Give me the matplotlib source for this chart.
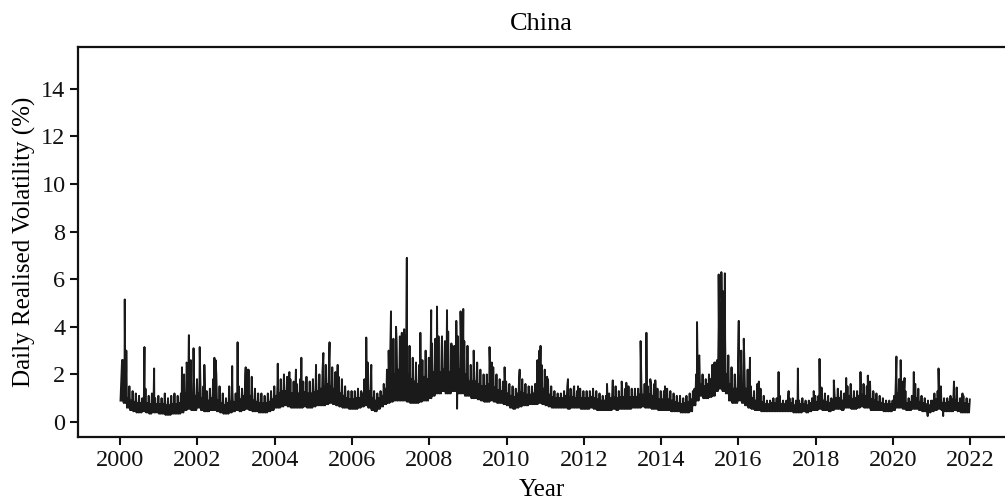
import matplotlib
matplotlib.use("Agg")
import matplotlib.pyplot as plt
import numpy as np

# monthly trough of daily realised volatility (%), Jan 2000 .. Dec 2021
lows = [
    0.9, 0.8, 0.6, 0.5, 0.45, 0.4, 0.4, 0.45, 0.4, 0.35, 0.4, 0.4,      # 2000
    0.35, 0.35, 0.3, 0.3, 0.35, 0.35, 0.35, 0.4, 0.5, 0.55, 0.5, 0.5,   # 2001
    0.6, 0.5, 0.45, 0.45, 0.5, 0.5, 0.45, 0.4, 0.35, 0.35, 0.4, 0.45,   # 2002
    0.5, 0.45, 0.5, 0.55, 0.5, 0.45, 0.45, 0.4, 0.4, 0.4, 0.45, 0.5,    # 2003
    0.6, 0.6, 0.65, 0.7, 0.65, 0.6, 0.6, 0.6, 0.6, 0.65, 0.6, 0.6,      # 2004
    0.65, 0.7, 0.7, 0.7, 0.75, 0.8, 0.75, 0.7, 0.65, 0.6, 0.6, 0.55,    # 2005
    0.55, 0.55, 0.6, 0.65, 0.7, 0.6, 0.5, 0.45, 0.55, 0.65, 0.75, 0.8,  # 2006
    0.85, 0.9, 0.9, 0.9, 0.9, 0.85, 0.8, 0.8, 0.8, 0.85, 0.9, 0.9,      # 2007
    1.0, 1.1, 1.2, 1.2, 1.3, 1.2, 1.2, 1.3, 1.3, 1.2, 1.2, 1.1,         # 2008
    1.1, 1.0, 1.0, 0.95, 0.9, 0.85, 0.85, 0.9, 0.85, 0.8, 0.8, 0.75,    # 2009
    0.7, 0.6, 0.55, 0.6, 0.65, 0.7, 0.7, 0.75, 0.75, 0.75, 0.8, 0.75,   # 2010
    0.7, 0.65, 0.6, 0.6, 0.6, 0.6, 0.6, 0.55, 0.6, 0.6, 0.6, 0.55,      # 2011
    0.55, 0.55, 0.6, 0.55, 0.5, 0.5, 0.5, 0.5, 0.5, 0.55, 0.5, 0.55,    # 2012
    0.55, 0.55, 0.55, 0.6, 0.6, 0.6, 0.65, 0.6, 0.6, 0.55, 0.55, 0.5,   # 2013
    0.5, 0.5, 0.5, 0.45, 0.45, 0.45, 0.4, 0.4, 0.4, 0.45, 0.7, 0.9,     # 2014
    1.1, 1.0, 1.0, 1.05, 1.1, 1.3, 1.4, 1.3, 1.2, 0.9, 0.8, 0.8,        # 2015
    0.9, 0.8, 0.7, 0.6, 0.55, 0.5, 0.5, 0.45, 0.45, 0.45, 0.45, 0.45,   # 2016
    0.45, 0.45, 0.45, 0.45, 0.45, 0.4, 0.4, 0.4, 0.45, 0.4, 0.45, 0.5,  # 2017
    0.5, 0.55, 0.5, 0.5, 0.45, 0.5, 0.55, 0.55, 0.5, 0.6, 0.6, 0.55,    # 2018
    0.55, 0.6, 0.65, 0.6, 0.6, 0.5, 0.5, 0.5, 0.5, 0.45, 0.45, 0.45,    # 2019
    0.5, 0.6, 0.6, 0.55, 0.5, 0.5, 0.55, 0.55, 0.5, 0.45, 0.45, 0.4,    # 2020
    0.45, 0.5, 0.55, 0.5, 0.45, 0.45, 0.45, 0.5, 0.45, 0.4, 0.4, 0.4,   # 2021
]
# upper edge of the dense body each month
body = [
    1.8, 1.3, 1.0, 0.9, 0.85, 0.8, 0.8, 0.85, 0.8, 0.75, 0.75, 0.75,    # 2000
    0.75, 0.75, 0.7, 0.7, 0.75, 0.75, 0.8, 1.0, 1.2, 1.3, 1.2, 1.1,     # 2001
    1.2, 1.0, 0.9, 0.9, 1.0, 1.1, 0.9, 0.8, 0.7, 0.8, 0.85, 0.85,       # 2002
    1.0, 0.95, 1.1, 1.2, 1.1, 0.9, 0.85, 0.8, 0.8, 0.8, 0.85, 0.95,     # 2003
    1.1, 1.2, 1.3, 1.3, 1.25, 1.2, 1.15, 1.2, 1.2, 1.25, 1.2, 1.2,      # 2004
    1.25, 1.3, 1.4, 1.5, 1.6, 1.5, 1.4, 1.3, 1.2, 1.1, 1.0, 0.95,       # 2005
    0.95, 1.0, 1.0, 1.2, 1.5, 1.3, 1.0, 0.9, 1.0, 1.1, 1.4, 1.6,        # 2006
    2.0, 2.0, 2.2, 2.3, 2.3, 2.0, 1.8, 1.7, 1.6, 1.7, 1.9, 1.8,         # 2007
    2.0, 2.1, 2.2, 2.1, 2.2, 2.3, 2.1, 2.1, 2.2, 2.2, 2.1, 2.0,         # 2008
    1.7, 1.7, 1.7, 1.6, 1.5, 1.5, 1.6, 1.6, 1.45, 1.35, 1.3, 1.3,       # 2009
    1.2, 1.1, 1.05, 1.2, 1.25, 1.2, 1.15, 1.15, 1.2, 1.35, 1.5, 1.4,    # 2010
    1.3, 1.15, 1.05, 1.0, 1.0, 1.0, 1.1, 1.05, 1.05, 1.0, 1.05, 1.0,    # 2011
    1.0, 1.0, 1.05, 1.0, 0.95, 0.9, 0.9, 0.95, 1.0, 1.05, 1.0, 1.05,    # 2012
    1.05, 1.1, 1.05, 1.05, 1.05, 1.15, 1.15, 1.1, 1.15, 1.1, 1.0, 0.95, # 2013
    0.95, 1.0, 0.95, 0.9, 0.85, 0.8, 0.75, 0.8, 0.85, 0.95, 1.4, 1.9,   # 2014
    1.6, 1.5, 1.6, 1.8, 1.9, 2.6, 2.8, 2.3, 2.0, 1.6, 1.4, 1.4,         # 2015
    1.9, 1.6, 1.4, 1.1, 1.0, 0.9, 1.0, 0.85, 0.75, 0.75, 0.8, 0.8,      # 2016
    0.85, 0.75, 0.75, 0.8, 0.8, 0.7, 0.7, 0.75, 0.75, 0.7, 0.8, 0.85,   # 2017
    0.85, 1.0, 0.9, 0.85, 0.8, 0.9, 1.0, 1.0, 0.9, 1.05, 1.1, 0.95,     # 2018
    1.0, 1.1, 1.15, 1.1, 1.15, 0.95, 0.9, 0.85, 0.8, 0.75, 0.75, 0.75,  # 2019
    1.1, 1.2, 1.15, 1.0, 0.8, 0.85, 1.1, 1.0, 0.85, 0.8, 0.75, 0.7,     # 2020
    0.9, 0.95, 1.05, 0.8, 0.8, 0.85, 0.95, 0.9, 0.8, 0.85, 0.8, 0.75,   # 2021
]
# monthly peak (ordinary spikes)
highs = [
    2.6, 2.2, 1.5, 1.3, 1.2, 1.1, 1.0, 1.4, 1.1, 1.2, 1.0, 1.1,         # 2000
    1.0, 1.2, 1.0, 1.1, 1.2, 1.1, 1.2, 2.0, 2.4, 2.5, 2.2, 1.8,         # 2001
    2.0, 1.5, 1.3, 1.4, 1.8, 2.0, 1.5, 1.2, 1.0, 1.5, 1.3, 1.2,         # 2002
    1.5, 1.4, 2.0, 2.2, 1.9, 1.4, 1.2, 1.2, 1.1, 1.2, 1.3, 1.5,         # 2003
    1.6, 1.8, 2.0, 1.9, 1.8, 1.7, 1.6, 1.8, 1.7, 1.9, 1.7, 1.8,         # 2004
    1.9, 2.0, 2.2, 2.4, 2.6, 2.3, 2.1, 1.9, 1.8, 1.5, 1.3, 1.3,         # 2005
    1.3, 1.4, 1.3, 1.8, 2.5, 2.0, 1.3, 1.2, 1.3, 1.6, 2.2, 2.8,         # 2006
    3.5, 3.4, 3.6, 3.7, 3.8, 3.2, 2.7, 2.5, 2.4, 2.6, 3.0, 2.7,         # 2007
    3.3, 3.5, 3.6, 3.2, 3.4, 3.8, 3.3, 3.2, 3.6, 3.6, 3.4, 3.2,         # 2008
    2.4, 2.6, 2.5, 2.2, 2.0, 2.0, 2.4, 2.3, 2.0, 1.8, 1.7, 1.7,         # 2009
    1.6, 1.5, 1.4, 1.7, 1.8, 1.6, 1.5, 1.5, 1.6, 2.0, 2.4, 2.2,         # 2010
    1.8, 1.5, 1.3, 1.2, 1.2, 1.3, 1.5, 1.4, 1.4, 1.3, 1.4, 1.3,         # 2011
    1.3, 1.3, 1.4, 1.3, 1.2, 1.1, 1.1, 1.2, 1.3, 1.5, 1.3, 1.5,         # 2012
    1.4, 1.5, 1.4, 1.4, 1.4, 1.6, 1.6, 1.5, 1.6, 1.6, 1.4, 1.3,         # 2013
    1.3, 1.4, 1.3, 1.2, 1.1, 1.1, 1.0, 1.1, 1.2, 1.3, 2.0, 2.8,         # 2014
    2.0, 1.8, 2.0, 2.4, 2.5, 4.0, 4.3, 3.5, 2.8, 2.3, 2.0, 2.0,         # 2015
    3.0, 2.4, 2.2, 1.5, 1.3, 1.2, 1.4, 1.1, 0.9, 0.9, 1.0, 1.0,         # 2016
    1.1, 0.9, 0.9, 1.0, 1.0, 0.9, 0.9, 1.0, 0.9, 0.9, 1.0, 1.1,         # 2017
    1.1, 1.4, 1.2, 1.1, 1.0, 1.2, 1.4, 1.3, 1.2, 1.5, 1.6, 1.3,         # 2018
    1.3, 1.5, 1.6, 1.5, 1.7, 1.3, 1.2, 1.1, 1.0, 0.9, 0.9, 0.9,         # 2019
    1.6, 1.8, 1.7, 1.3, 1.0, 1.1, 1.6, 1.4, 1.1, 1.0, 0.9, 0.9,         # 2020
    1.2, 1.3, 1.5, 1.0, 1.0, 1.1, 1.3, 1.2, 1.0, 1.1, 1.0, 0.95,        # 2021
]

# isolated spikes / dips (decimal year, value)
spike_years = [
    2000.05, 2000.12, 2000.16, 2000.63, 2000.88,
    2001.60, 2001.72, 2001.78, 2001.83, 2001.90,
    2002.06, 2002.18, 2002.44, 2002.47, 2002.90,
    2003.04, 2003.25, 2003.30,
    2004.08, 2004.38, 2004.55, 2004.69,
    2005.07, 2005.26, 2005.42, 2005.63,
    2006.37, 2006.50, 2006.95,
    2007.01, 2007.14, 2007.29, 2007.35, 2007.42, 2007.77,
    2008.05, 2008.20, 2008.33, 2008.46, 2008.60, 2008.70, 2008.72, 2008.81, 2008.88,
    2009.15, 2009.56, 2009.62, 2009.95,
    2010.34, 2010.80, 2010.85, 2010.88,
    2011.05, 2011.59, 2011.75, 2011.85,
    2012.60, 2012.75, 2012.98,
    2013.10, 2013.47, 2013.62, 2013.72, 2013.85,
    2014.10, 2014.93, 2014.97,
    2015.38, 2015.49, 2015.52, 2015.56, 2015.60, 2015.65,
    2016.01, 2016.14, 2016.30, 2016.49, 2016.53,
    2017.04, 2017.30, 2017.54, 2017.95,
    2018.10, 2018.15, 2018.47, 2018.79,
    2019.16, 2019.35, 2019.50,
    2020.09, 2020.20, 2020.30, 2020.54, 2020.58, 2020.90,
    2021.18, 2021.30, 2021.58, 2021.65, 2021.80,
]
spike_values = [
    2.6, 5.15, 3.0, 3.15, 2.25,
    2.3, 2.5, 3.65, 2.6, 3.1,
    3.15, 2.4, 2.7, 2.6, 2.35,
    3.35, 2.3, 2.2,
    2.45, 2.1, 2.2, 2.7,
    2.4, 2.9, 3.35, 2.4,
    3.55, 2.4, 3.0,
    4.65, 4.0, 3.75, 3.9, 6.9, 3.75,
    4.7, 4.85, 3.6, 4.7, 3.2, 4.25, 0.56, 4.65, 4.75,
    3.0, 3.15, 2.5, 2.3,
    2.2, 2.6, 3.0, 3.2,
    1.9, 1.8, 1.5, 1.5,
    1.6, 1.75, 1.7,
    1.65, 3.4, 3.75, 1.8, 1.75,
    1.5, 4.2, 2.7,
    2.5, 6.2, 5.0, 6.3, 5.5, 6.25,
    4.25, 3.5, 2.7, 1.6, 1.7,
    2.1, 1.3, 2.25, 1.3,
    2.65, 1.45, 1.75, 1.85,
    2.1, 1.95, 1.2,
    2.75, 2.6, 1.85, 2.1, 1.6, 0.25,
    2.25, 0.25, 1.7, 1.45, 1.2,
]

# each month: trough, body top, trough, peak
months = np.arange(len(lows))
start = 2000 + months / 12
t = np.concatenate([start + 0.5 / 48, start + 1.5 / 48,
                    start + 2.5 / 48, start + 3.5 / 48, spike_years])
v = np.concatenate([lows, body, lows, highs, spike_values])
order = np.argsort(t, kind='stable')
t, v = t[order], v[order]

plt.rcParams['font.family'] = ['Liberation Serif', 'DejaVu Serif']

fig = plt.figure(figsize=(10.05, 5.04), dpi=100)
ax = fig.add_axes([78 / 1005, 67 / 504, 927 / 1005, 390 / 504])

ax.plot(t, v, color='#1a1a1a', lw=1.4)

ax.set_xlim(1998.91, 2022.9)
ax.set_ylim(-0.63, 15.76)
ax.set_xticks(np.arange(2000, 2023, 2))
ax.set_yticks(np.arange(0, 15, 2))

ax.spines['right'].set_visible(False)
for s in ['left', 'bottom', 'top']:
    ax.spines[s].set_linewidth(1.6)
    ax.spines[s].set_color('#111111')
ax.tick_params(axis='both', direction='out', length=6, width=1.5,
               labelsize=17.5, colors='#111111', pad=3)

ax.set_title('China', fontsize=19, pad=12)
ax.set_xlabel('Year', fontsize=18, labelpad=6)
ax.set_ylabel('Daily Realised Volatility (%)', fontsize=18, labelpad=4)

fig.savefig('out.png', dpi=100)
